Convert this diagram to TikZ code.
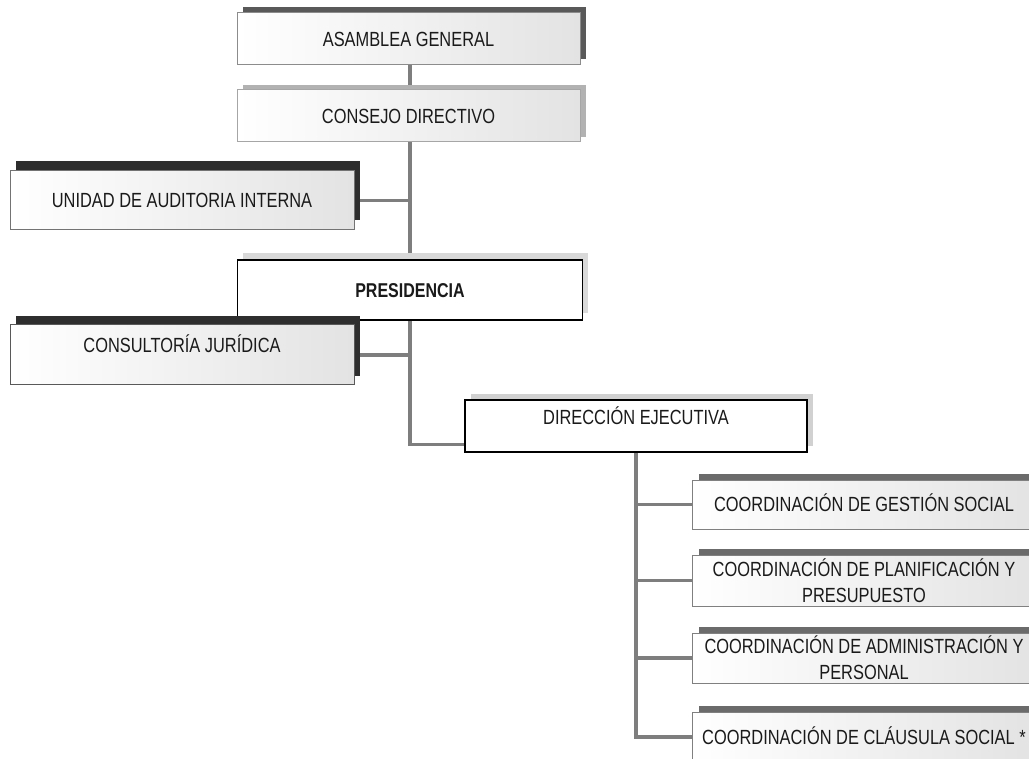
\documentclass[tikz,border=0pt]{standalone}
\usepackage{fontspec}
\setmainfont{Liberation Sans}[FakeStretch=0.80]
\usetikzlibrary{shadows,calc}
\pgfdeclarelayer{background}
\pgfsetlayers{background,main}
\definecolor{txt}{HTML}{1A1A1A}
\definecolor{conn}{HTML}{7E7E7E}
\tikzset{
  x=1pt, y=-1pt,
  orgbox/.style={draw, rectangle, inner sep=0pt, text=txt, align=center,
    font=\fontsize{20.5}{26}\selectfont,
    left color=white, middle color=white, right color=black!11},
  oneline/.style={text height=14.5pt, text depth=#1},
  oneline/.default=0pt,
  plainwhite/.style={left color=white, middle color=white, right color=white},
  shd/.style 2 args={drop shadow={shadow xshift=#1pt, shadow yshift=#2pt, fill=shc, opacity=1}},
  link/.style={draw=conn, line width=3.2pt},
}
\begin{document}
\begin{tikzpicture}
\clip (0,0) rectangle (1029,759);
% top level
\colorlet{shc}{black!65}
\node[orgbox, oneline, draw=black!45, line width=1pt, minimum width=343pt, minimum height=52pt, shd={6}{6}] (ag) at (408.5,39) {ASAMBLEA GENERAL};
\colorlet{shc}{black!30}
\node[orgbox, oneline, draw=black!35, line width=1pt, minimum width=343pt, minimum height=52pt, shd={6}{5}] (cd) at (408.5,116) {CONSEJO DIRECTIVO};
\colorlet{shc}{black!82}
\node[orgbox, oneline, draw=black!55, line width=1pt, minimum width=344pt, minimum height=59pt, shd={6}{10}] (ua) at (182,200.5) {UNIDAD DE AUDITORIA INTERNA};
\colorlet{shc}{black!15}
\node[orgbox, oneline, plainwhite, draw=black, line width=1.5pt, minimum width=345pt, minimum height=60pt, shd={5}{7}, font=\fontsize{20}{26}\selectfont\bfseries] (pres) at (410,290) {PRESIDENCIA};
\colorlet{shc}{black!82}
\node[orgbox, oneline=20pt, draw=black!65, line width=1pt, minimum width=344pt, minimum height=60pt, shd={6}{9}] (cj) at (182,355) {CONSULTORÍA JURÍDICA};
\colorlet{shc}{black!18}
\node[orgbox, oneline=18pt, plainwhite, draw=black, line width=1.2pt, minimum width=342pt, minimum height=52pt, shd={6}{6}] (dir) at (636,426) {DIRECCIÓN EJECUTIVA};
% coordinations
\colorlet{shc}{black!58}
\node[orgbox, oneline, draw=black!50, line width=1pt, minimum width=344pt, minimum height=49pt, shd={7}{6}] (gs) at (864,504.5) {COORDINACIÓN DE GESTIÓN SOCIAL};
\node[orgbox, draw=black!50, line width=1pt, minimum width=344pt, minimum height=51pt, shd={7}{6}] (pp) at (864,580.5) {COORDINACIÓN DE PLANIFICACIÓN Y\\PRESUPUESTO};
\node[orgbox, draw=black!50, line width=1pt, minimum width=344pt, minimum height=50pt, shd={7}{6}] (ap) at (864,658) {COORDINACIÓN DE ADMINISTRACIÓN Y\\PERSONAL};
\node[orgbox, oneline, draw=black!50, line width=1pt, minimum width=344pt, minimum height=50pt, shd={7}{6}] (cl) at (864,737) {COORDINACIÓN DE CLÁUSULA SOCIAL *};
% connectors
\coordinate (trunkA) at (410,0);
\coordinate (dirIn) at ($(dir.south west)+(0,-8)$);
\begin{pgfonlayer}{background}
\draw[link] (ag.south -| trunkA) -- (cd.north -| trunkA);
\draw[link] (cd.south -| trunkA) -- (pres.north -| trunkA);
\draw[link] (ua.east) -- (ua.east -| trunkA);
\draw[link] (pres.south -| trunkA) -- (dirIn -| trunkA) -- (dirIn);
\draw[link] (cj.east) -- (cj.east -| trunkA);
\draw[link] (dir.south) -- (dir.south |- cl.west) -- (cl.west);
\draw[link] (dir.south |- gs.west) -- (gs.west);
\draw[link] (dir.south |- pp.west) -- (pp.west);
\draw[link] (dir.south |- ap.west) -- (ap.west);
\end{pgfonlayer}
\end{tikzpicture}
\end{document}
